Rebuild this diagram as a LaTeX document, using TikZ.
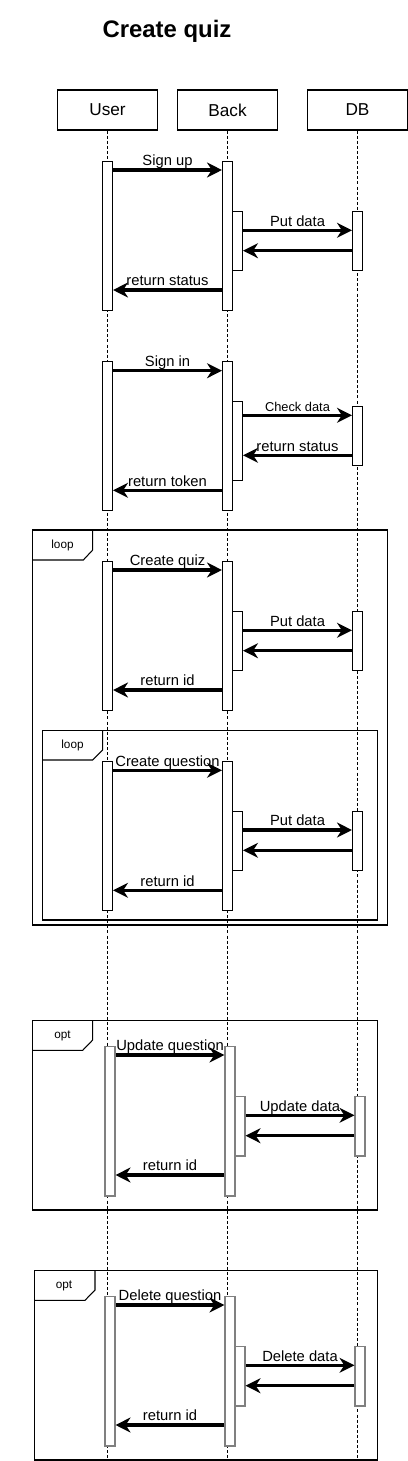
\documentclass[tikz,border=0pt]{standalone}
\usepackage{fontspec}
\setmainfont{Liberation Sans}
\usetikzlibrary{arrows.meta}

\tikzset{
  head/.style={draw, line width=0.6pt, minimum width=2cm, minimum height=0.8cm, inner sep=0pt, font=\fontsize{9.8}{11}\selectfont},
  lifeline/.style={line width=0.5pt, dash pattern=on 1.7pt off 1.2pt},
  actbar/.style={draw, fill=white, line width=0.6pt, minimum width=0.2cm, inner sep=0pt, anchor=north},
  optbar/.style={actbar, draw=black!50, line width=0.9pt, minimum width=0.19cm},
  msg/.style={line width=1.8pt, -{Stealth[length=8.5pt,width=8.5pt,inset=2.7pt]}},
  lbl/.style={anchor=base, yshift=0.085cm, inner sep=0pt, font=\fontsize{8.4}{10}\selectfont},
  frame/.style={line width=0.6pt},
  tag/.style={inner sep=0pt, font=\fontsize{6.7}{8}\selectfont},
}

% activation box: [style] name, x, top, bottom (in px)
\newcommand{\actbox}[5][actbar]{\node[#1, minimum height={(#5-#4)*0.02cm}] (#2) at (#3,#4) {};}

\begin{document}
\begin{tikzpicture}[x=0.02cm, y=-0.02cm]
        \useasboundingbox (0,0) rectangle (408,1461);

        % title
        \node[anchor=base, inner sep=0pt, font=\fontsize{13.6}{16}\selectfont\bfseries] (title) at (167,37.3) {Create quiz};

        % heads and life lines
        \coordinate (bottom) at (0,1460);
        \foreach \n/\x/\t in {user/107.5/User, back/227.5/Back, db/357.5/DB} {
                \node[head] (\n) at (\x,110) {\t};
                \draw[lifeline] (\n.south) -- (\n.south |- bottom);
        }

%%%%%%%%%%%%%%%%%%%%%%%%
        % sign up
        \actbox{u1}{107.5}{160.7}{310}
        \actbox{b1}{227.5}{160.7}{310}
        \actbox{bb1}{237.5}{210.7}{270}
        \actbox{d1}{357.5}{210.7}{270}
        \draw[msg] (u1.east |- 0,170) -- node[lbl] (t1) {Sign up} (b1.west |- 0,170);
        \draw[msg] (bb1.east |- 0,230.3) -- node[lbl] (t2) {Put data} (d1.west |- 0,230.3);
        \draw[msg] (d1.west |- 0,250.7) -- (bb1.east |- 0,250.7);
        \draw[msg] (b1.west |- 0,290) -- node[lbl] (t3) {return status} (u1.east |- 0,290);

%%%%%%%%%%%%%%%%%%%%%%%%
        % sign in
        \actbox{u2}{107.5}{360.7}{510}
        \actbox{b2}{227.5}{360.7}{510}
        \actbox{bb2}{237.5}{400.7}{480}
        \actbox{d2}{357.5}{405.7}{465}
        \draw[msg] (u2.east |- 0,370.7) -- node[lbl] (t4) {Sign in} (b2.west |- 0,370.7);
        \draw[msg] (bb2.east |- 0,415.3) -- node[lbl, font=\fontsize{7.3}{9}\selectfont] (t5) {Check data} (d2.west |- 0,415.3);
        \draw[msg] (d2.west |- 0,455.3) -- node[lbl] (t6) {return status} (bb2.east |- 0,455.3);
        \draw[msg] (b2.west |- 0,490.3) -- node[lbl] (t7) {return token} (u2.east |- 0,490.3);

%%%%%%%%%%%%%%%%%%%%%%%%
        % loop: create quiz
        \draw[frame] (32.5,530) rectangle (387.5,925);
        \draw[frame] (32.5,560) -- (83.3,560) -- (92.7,550) -- (92.7,530);
        \node[tag] (loop1) at (62.5,545) {loop};

        \actbox{u3}{107.5}{560.7}{710}
        \actbox{b3}{227.5}{560.7}{710}
        \actbox{bb3}{237.5}{610.7}{670}
        \actbox{d3}{357.5}{610.7}{670}
        \draw[msg] (u3.east |- 0,570) -- node[lbl] (t8) {Create quiz} (b3.west |- 0,570);
        \draw[msg] (bb3.east |- 0,630.3) -- node[lbl] (t9) {Put data} (d3.west |- 0,630.3);
        \draw[msg] (d3.west |- 0,650.7) -- (bb3.east |- 0,650.7);
        \draw[msg] (b3.west |- 0,690) -- node[lbl] (t10) {return id} (u3.east |- 0,690);

        % inner loop: create question
        \draw[frame] (42.5,730.7) rectangle (377.3,920);
        \draw[frame] (42.5,760) -- (92.7,760) -- (102.7,750) -- (102.7,730.7);
        \node[tag] (loop2) at (72.5,745.5) {loop};

        \actbox{u4}{107.5}{760.7}{910}
        \actbox{b4}{227.5}{760.7}{910}
        \actbox{bb4}{237.5}{810.7}{870}
        \actbox{d4}{357.5}{810.7}{870}
        \draw[msg] (u4.east |- 0,770.3) -- node[lbl] (t11) {Create question} (b4.west |- 0,770.3);
        \draw[msg] (bb4.east |- 0,830) -- node[lbl] (t12) {Put data} (d4.west |- 0,830);
        \draw[msg] (d4.west |- 0,850.3) -- (bb4.east |- 0,850.3);
        \draw[msg] (b4.west |- 0,890.3) -- node[lbl] (t13) {return id} (u4.east |- 0,890.3);

%%%%%%%%%%%%%%%%%%%%%%%%
        % opt: update question
        \draw[frame] (32.5,1020.3) rectangle (377.3,1210);
        \draw[frame] (32.5,1050.3) -- (82.7,1050.3) -- (92.7,1040) -- (92.7,1020.3);
        \node[tag] (opt1) at (62.5,1035.7) {opt};

        \actbox[optbar]{u5}{110}{1045.7}{1195}
        \actbox[optbar]{b5}{230}{1045.7}{1195}
        \actbox[optbar]{bb5}{240}{1095.7}{1155}
        \actbox[optbar]{d5}{360}{1095.7}{1155}
        \draw[msg] (u5.east |- 0,1055) -- node[lbl] (t14) {Update question} (b5.west |- 0,1055);
        \draw[msg] (bb5.east |- 0,1115.3) -- node[lbl] (t15) {Update data} (d5.west |- 0,1115.3);
        \draw[msg] (d5.west |- 0,1135.7) -- (bb5.east |- 0,1135.7);
        \draw[msg] (b5.west |- 0,1175) -- node[lbl] (t16) {return id} (u5.east |- 0,1175);

%%%%%%%%%%%%%%%%%%%%%%%%
        % opt: delete question
        \draw[frame] (34.8,1270.5) rectangle (377.3,1460);
        \draw[frame] (34.8,1300.3) -- (85,1300.3) -- (95,1290) -- (95,1270.5);
        \node[tag] (opt2) at (64,1285.7) {opt};

        \actbox[optbar]{u6}{110}{1295.7}{1445}
        \actbox[optbar]{b6}{230}{1295.7}{1445}
        \actbox[optbar]{bb6}{240}{1345.7}{1405}
        \actbox[optbar]{d6}{360}{1345.7}{1405}
        \draw[msg] (u6.east |- 0,1305) -- node[lbl] (t17) {Delete question} (b6.west |- 0,1305);
        \draw[msg] (bb6.east |- 0,1365.3) -- node[lbl] (t18) {Delete data} (d6.west |- 0,1365.3);
        \draw[msg] (d6.west |- 0,1385.7) -- (bb6.east |- 0,1385.7);
        \draw[msg] (b6.west |- 0,1425) -- node[lbl] (t19) {return id} (u6.east |- 0,1425);

    \end{tikzpicture}
\end{document}
